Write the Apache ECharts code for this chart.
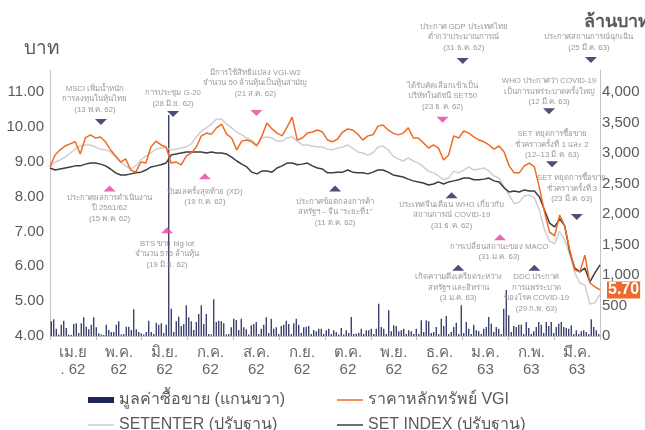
<!DOCTYPE html>
<html>
<head>
<meta charset="utf-8">
<script src="https://cdn.jsdelivr.net/npm/echarts@6/dist/echarts.min.js"></script>
<style>
  html, body { margin: 0; padding: 0; background: #fff; }
  #chart { width: 645px; height: 430px; }
</style>
</head>
<body>
<div id="chart"></div>
<script>
// month labels on the visible axis
const months = ['เม.ย\n. 62', 'พ.ค.\n62', 'มิ.ย.\n62', 'ก.ค.\n62', 'ส.ค.\n62', 'ก.ย.\n62',
  'ต.ค.\n62', 'พ.ย.\n62', 'ธ.ค.\n62', 'ม.ค.\n63', 'ก.พ.\n63', 'มี.ค.\n63'];

// baht, sampled evenly from Apr 2019 to end of Mar 2020
const vgiPrice = [
  8.85, 9.19, 9.34, 9.45, 9.51, 9.57, 9.22, 9.68, 9.77, 9.68,
  9.71, 9.57, 9.34, 9.16, 8.99, 9.08, 8.76, 8.70, 8.99, 8.96,
  9.42, 9.59, 9.48, 9.42, 8.96, 8.99, 8.91, 9.16, 9.25, 9.42,
  9.74, 9.82, 9.79, 9.97, 10.08, 9.79, 9.68, 9.34, 9.59, 9.62,
  9.57, 9.45, 9.74, 10.11, 9.94, 9.82, 9.74, 10.00, 10.28, 9.62,
  9.68, 9.82, 9.85, 9.91, 9.85, 9.62, 9.57, 9.65, 9.85, 9.94,
  9.91, 9.79, 9.62, 9.74, 9.77, 10.02, 10.05, 9.91, 9.82, 9.77,
  9.82, 9.97, 9.68, 9.68, 9.54, 9.39, 9.48, 9.39, 9.05, 9.19,
  9.74, 9.68, 9.88, 9.82, 9.71, 9.62, 9.57, 9.48, 9.36, 9.45,
  9.28, 8.88, 8.68, 8.68, 8.88, 8.96, 8.85, 8.25, 7.56, 6.98,
  6.87, 7.47, 7.16, 6.47, 5.89, 5.84, 6.32, 5.52, 5.41, 5.32
];
const setEnter = [
  8.85, 8.99, 9.05, 9.13, 9.25, 9.36, 9.45, 9.48, 9.48, 9.42,
  9.36, 9.34, 9.28, 9.13, 8.99, 8.88, 8.79, 8.88, 9.05, 9.16,
  9.25, 9.36, 9.39, 9.39, 9.34, 9.36, 9.39, 9.42, 9.51, 9.71,
  9.88, 9.97, 10.08, 10.22, 10.22, 10.08, 9.97, 9.85, 9.77, 9.68,
  9.62, 9.48, 9.68, 9.71, 9.68, 9.59, 9.59, 9.68, 9.71, 9.59,
  9.48, 9.48, 9.45, 9.42, 9.42, 9.36, 9.34, 9.39, 9.42, 9.48,
  9.39, 9.28, 9.25, 9.19, 9.25, 9.42, 9.45, 9.34, 9.16, 9.08,
  9.02, 9.11, 9.02, 8.96, 8.85, 8.73, 8.68, 8.59, 8.48, 8.53,
  8.73, 8.68, 8.76, 8.85, 8.76, 8.79, 8.82, 8.73, 8.59, 8.53,
  8.27, 8.04, 7.79, 7.84, 8.02, 8.04, 7.96, 7.61, 7.04, 6.73,
  6.64, 7.01, 6.75, 6.35, 5.81, 5.52, 5.46, 4.92, 4.95, 5.20
];
const setIndex = [
  8.82, 8.76, 8.79, 8.82, 8.85, 8.88, 8.88, 8.93, 8.96, 8.96,
  8.93, 8.88, 8.79, 8.68, 8.62, 8.62, 8.65, 8.68, 8.70, 8.76,
  8.85, 8.88, 8.91, 8.96, 9.19, 9.22, 9.25, 9.28, 9.28, 9.28,
  9.28, 9.25, 9.28, 9.25, 9.25, 9.22, 9.13, 9.02, 8.93, 8.85,
  8.70, 8.65, 8.73, 8.73, 8.70, 8.82, 8.88, 8.96, 8.96, 8.91,
  8.93, 8.96, 8.88, 8.82, 8.79, 8.68, 8.68, 8.70, 8.70, 8.76,
  8.70, 8.68, 8.68, 8.65, 8.70, 8.76, 8.76, 8.70, 8.62, 8.59,
  8.56, 8.50, 8.45, 8.42, 8.39, 8.33, 8.36, 8.42, 8.36, 8.42,
  8.45, 8.48, 8.53, 8.53, 8.48, 8.48, 8.50, 8.53, 8.45, 8.42,
  8.25, 8.13, 8.16, 8.13, 8.19, 8.16, 8.16, 7.99, 7.61, 7.24,
  7.13, 7.36, 7.16, 6.41, 5.95, 5.84, 5.95, 5.55, 5.81, 6.04
];

// trading value, million baht (right axis)
const tradeValue = [
  241, 274, 120, 25, 185, 251, 131, 25, 16, 197,
  208, 49, 208, 306, 152, 110, 185, 306, 143, 44,
  25, 16, 185, 98, 66, 66, 185, 241, 25, 33,
  152, 152, 98, 438, 110, 66, 44, 25, 66, 251,
  66, 33, 218, 185, 208, 49, 185, 3622, 447, 66,
  241, 316, 164, 197, 503, 306, 241, 98, 229, 361,
  503, 197, 361, 33, 25, 602, 229, 251, 241, 208,
  25, 33, 143, 284, 262, 98, 284, 143, 110, 25,
  175, 197, 229, 33, 120, 185, 306, 49, 284, 120,
  143, 33, 164, 185, 251, 197, 33, 208, 284, 185,
  49, 143, 152, 164, 33, 98, 77, 120, 120, 33,
  93, 120, 33, 93, 66, 25, 131, 25, 93, 49,
  311, 33, 38, 54, 120, 33, 93, 93, 120, 33,
  120, 529, 148, 120, 33, 421, 77, 175, 164, 77,
  93, 120, 33, 93, 77, 33, 120, 33, 257, 66,
  257, 241, 49, 66, 148, 33, 284, 164, 328, 33,
  66, 148, 218, 33, 503, 49, 229, 120, 33, 185,
  93, 77, 33, 120, 148, 311, 202, 66, 148, 120,
  33, 447, 754, 339, 66, 164, 148, 185, 185, 33,
  229, 131, 33, 77, 148, 229, 185, 49, 229, 164,
  229, 49, 148, 202, 229, 148, 131, 120, 175, 33,
  93, 33, 77, 93, 66, 33, 274, 148, 93, 33
];

const lastPriceLabel = '5.70';

// events: sample index, level in baht, marker direction, kind
const events = [
  { text: 'MSCI เพิ่มน้ำหนัก\nการลงทุนในหุ้นไทย\n(13 พ.ค. 62)', at: 10.1, level: 10.14, dir: 'down', kind: 'market' },
  { text: 'การประชุม G-20\n(28 มิ.ย. 62)', at: 24.4, level: 10.37, dir: 'down', kind: 'market' },
  { text: 'มีการใช้สิทธิแปลง VGI-W2\nจำนวน 50 ล้านหุ้นเป็นหุ้นสามัญ\n(21 ส.ค. 62)', at: 40.9, level: 10.40, dir: 'down', kind: 'company' },
  { text: 'ประกาศ GDP ประเทศไทย\nต่ำกว่าประมาณการณ์\n(31 ธ.ค. 62)', at: 81.8, level: 11.89, dir: 'down', kind: 'market' },
  { text: 'ประกาศสถานการณ์ฉุกเฉิน\n(25 มี.ค. 63)', at: 107.2, level: 11.92, dir: 'down', kind: 'market' },
  { text: 'ได้รับคัดเลือกเข้าเป็น\nบริษัทในดัชนี SET50\n(23 ธ.ค. 62)', at: 77.8, level: 10.20, dir: 'down', kind: 'company' },
  { text: 'WHO ประกาศว่า COVID-19\nเป็นการแพร่ระบาดครั้งใหญ่\n(12 มี.ค. 63)', at: 98.9, level: 10.45, dir: 'down', kind: 'market' },
  { text: 'SET หยุดการซื้อขาย\nชั่วคราวครั้งที่ 1 และ 2\n(12–13 มี.ค. 63)', at: 99.5, level: 8.93, dir: 'down', kind: 'market' },
  { text: 'SET หยุดการซื้อขาย\nชั่วคราวครั้งที่ 3\n(23 มี.ค. 63)', at: 104.4, level: 7.41, dir: 'down', kind: 'market' },
  { text: 'ประกาศผลการดำเนินงาน\nปี 2561/62\n(15 พ.ค. 62)', at: 11.8, level: 8.23, dir: 'up', kind: 'company' },
  { text: 'ปันผลครั้งสุดท้าย (XD)\n(19 ก.ค. 62)', at: 30.7, level: 8.58, dir: 'up', kind: 'company' },
  { text: 'BTS ขาย big lot\nจำนวน 575 ล้านหุ้น\n(19 มิ.ย. 62)', at: 23.2, level: 7.03, dir: 'up', kind: 'company' },
  { text: 'ประกาศข้อตกลงการค้า\nสหรัฐฯ – จีน "ระยะที่1"\n(11 ต.ค. 62)', at: 56.5, level: 8.23, dir: 'up', kind: 'market' },
  { text: 'ประเทศจีนเตือน WHO เกี่ยวกับ\nสถานการณ์ COVID-19\n(31 ธ.ค. 62)', at: 79.6, level: 8.04, dir: 'up', kind: 'market' },
  { text: 'การเปลี่ยนสถานะของ MACO\n(31 ม.ค. 63)', at: 89.2, level: 6.83, dir: 'up', kind: 'company' },
  { text: 'เกิดความตึงเครียดระหว่าง\nสหรัฐฯ และอิหร่าน\n(3 ม.ค. 63)', at: 80.9, level: 5.96, dir: 'up', kind: 'market' },
  { text: 'DDC ประกาศ\nการแพร่ระบาด\nของโรค COVID-19\n(29 ก.พ. 63)', at: 96.0, level: 5.96, dir: 'up', kind: 'market' }
];
// label nudge [dx, gap] per event
const eventLayout = [
  [-6, 4], [0, 2], [-1, 11], [1, 5], [-2, 4], [0, 5], [0, 1], [0, 1], [-5, 10],
  [0, 1], [0, 7], [0, 5], [0, 5], [0, 1], [-1, 1], [0, 1], [2, 1]
];

const FONT = '"Liberation Sans", "Noto Sans", "DejaVu Sans", sans-serif';
const NAVY = '#1d2457';
const PINK = '#e4449a';
const ORANGE = '#f26a24';
const LIGHT = '#cfcfcf';
const DARK = '#3d3d3d';
const AXIS = '#c4c4c4';
const TEXT = '#5a5a5a';

const chart = echarts.init(document.getElementById('chart'));

const eventData = events.map((e, k) => {
  const down = e.dir === 'down';
  return {
    name: e.text,
    value: [e.at, e.level],
    symbolRotate: down ? 180 : 0,
    itemStyle: { color: e.kind === 'company' ? PINK : NAVY },
    label: {
      position: down ? 'top' : 'bottom',
      distance: eventLayout[k][1],
      offset: [eventLayout[k][0], 0]
    }
  };
});

function legendItem(name, left, top, iconHeight) {
  return {
    left: left, top: top, padding: 0, icon: 'rect',
    itemWidth: 26, itemHeight: iconHeight, data: [name],
    textStyle: { fontSize: 16, lineHeight: 18, color: TEXT, fontFamily: FONT }
  };
}

const option = {
  animation: false,
  backgroundColor: '#fff',
  textStyle: { fontFamily: FONT },
  grid: { left: 50, right: 45, top: 70, bottom: 94, containLabel: false, outerBoundsMode: 'none' },
  graphic: [
    { type: 'text', left: 24, top: 39, style: { text: 'บาท', fontSize: 19, fill: TEXT, fontFamily: FONT } },
    { type: 'text', left: 584, top: 13, style: { text: 'ล้านบาท', fontSize: 18, fontWeight: 'bold', fill: TEXT, fontFamily: FONT } }
  ],
  legend: [
    legendItem('มูลค่าซื้อขาย (แกนขวา)', 88, 391, 6),
    legendItem('SETENTER (ปรับฐาน)', 88, 416, 1.5),
    legendItem('ราคาหลักทรัพย์ VGI', 337, 391, 1.5),
    legendItem('SET INDEX (ปรับฐาน)', 337, 416, 1.5)
  ],
  xAxis: [
    {
      type: 'category', data: months, boundaryGap: true,
      axisLine: { lineStyle: { color: AXIS } },
      axisTick: { show: true, length: 4, lineStyle: { color: AXIS } },
      axisLabel: { interval: 0, color: '#666', fontSize: 15, lineHeight: 17, margin: 8 }
    },
    { type: 'value', min: 0, max: vgiPrice.length - 1, show: false },
    { type: 'category', data: tradeValue.map((_, i) => i), boundaryGap: true, show: false }
  ],
  yAxis: [
    {
      type: 'value', min: 4, max: 11.63, interval: 1, position: 'left',
      axisLine: { show: true, lineStyle: { color: AXIS } },
      axisTick: { show: false }, splitLine: { show: false },
      axisLabel: {
        color: TEXT, fontSize: 15, margin: 6, padding: [0, 0, 6, 0],
        formatter: v => Number.isInteger(v) ? v.toFixed(2) : ''
      }
    },
    {
      type: 'value', min: 0, max: 4361, interval: 500, position: 'right',
      axisLine: { show: true, lineStyle: { color: AXIS } },
      axisTick: { show: false }, splitLine: { show: false },
      axisLabel: {
        color: TEXT, fontSize: 15, margin: 2, padding: [0, 0, 6, 0],
        formatter: v => v % 500 === 0 ? v.toLocaleString('en-US') : ''
      }
    }
  ],
  series: [
    {
      name: 'มูลค่าซื้อขาย (แกนขวา)', type: 'bar', xAxisIndex: 2, yAxisIndex: 1,
      data: tradeValue, barWidth: 1.2, itemStyle: { color: NAVY }, z: 1
    },
    {
      name: 'SETENTER (ปรับฐาน)', type: 'line', xAxisIndex: 1, yAxisIndex: 0,
      data: setEnter.map((v, i) => [i, v]), symbol: 'none', color: LIGHT,
      lineStyle: { width: 1.5, color: LIGHT }, z: 2
    },
    {
      name: 'SET INDEX (ปรับฐาน)', type: 'line', xAxisIndex: 1, yAxisIndex: 0,
      data: setIndex.map((v, i) => [i, v]), symbol: 'none', color: DARK,
      lineStyle: { width: 1.5, color: DARK }, z: 3
    },
    {
      name: 'ราคาหลักทรัพย์ VGI', type: 'line', xAxisIndex: 1, yAxisIndex: 0,
      data: vgiPrice.map((v, i) => [i, v]), symbol: 'none', color: ORANGE,
      lineStyle: { width: 1.5, color: ORANGE }, z: 4,
      endLabel: {
        show: true, formatter: lastPriceLabel, color: '#fff', backgroundColor: '#eb6a2c',
        fontSize: 16, fontWeight: 'bold', padding: [1, 1, 0, 1], distance: 7, fontFamily: FONT
      }
    },
    {
      name: 'events', type: 'scatter', xAxisIndex: 1, yAxisIndex: 0,
      symbol: 'triangle', symbolSize: [12, 6], clip: false, z: 5,
      label: {
        show: true, formatter: '{b}', color: '#808080', fontSize: 7.8, lineHeight: 10.5,
        fontFamily: FONT
      },
      data: eventData
    }
  ]
};

chart.setOption(option);
</script>
</body>
</html>
